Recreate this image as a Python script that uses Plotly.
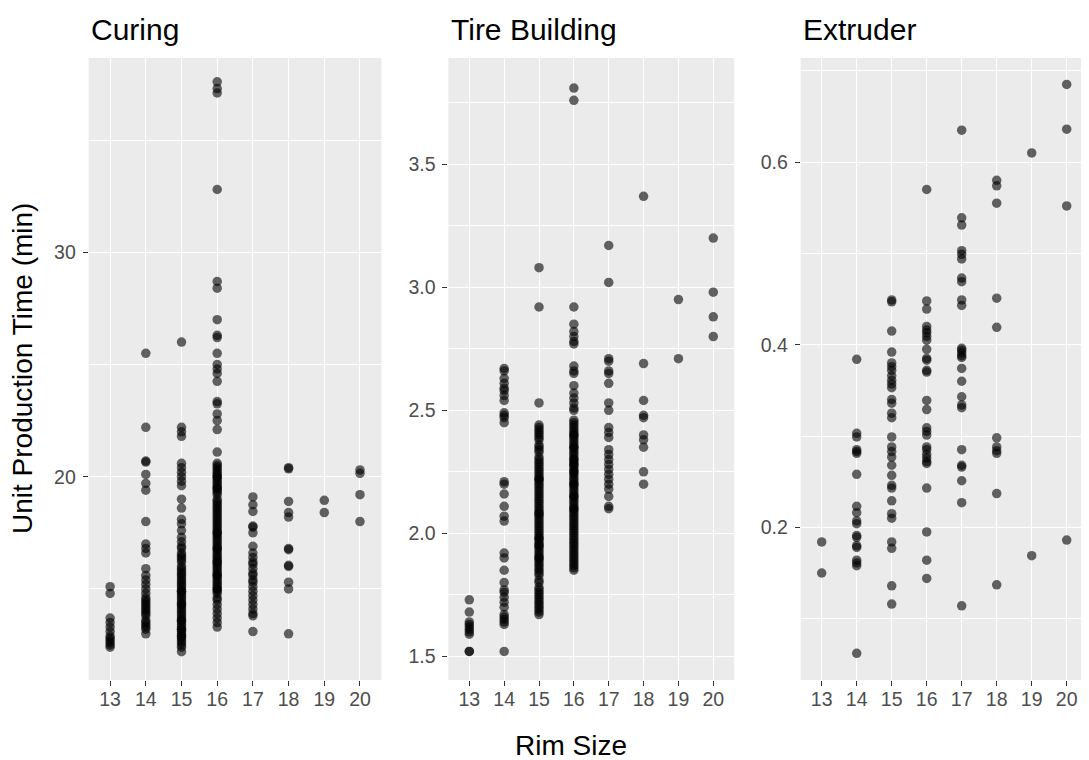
import plotly.graph_objects as go

rim_sizes = [13, 14, 15, 16, 17, 18, 19, 20]
panel_titles = ["Curing", "Tire Building", "Extruder"]

# Curing (min) per rim size
curing_13 = [15.1, 14.8, 13.7, 13.5, 13.3, 13.1, 12.9, 12.8, 12.7, 12.6, 12.5, 12.4]
curing_14 = [25.5, 22.2, 20.7, 20.65, 20.1, 19.7, 19.4, 18.0, 17.0, 16.8, 16.6, 15.9, 15.6, 15.4,
             15.2, 15.0, 14.8, 14.6, 14.5, 14.4, 14.3, 14.2, 14.1, 14.0, 13.9, 13.8, 13.6, 13.5,
             13.4, 13.3, 13.2, 13.0]
curing_15 = [26.0, 22.2, 22.0, 21.8, 20.6, 20.4, 20.2, 20.0, 19.8, 19.6, 19.0, 18.6, 18.1, 17.9,
             17.6, 17.3, 17.1, 16.9, 16.8, 16.6, 16.5, 16.3, 16.2, 16.0, 15.9, 15.8, 15.6, 15.5,
             15.4, 15.3, 15.1, 15.0, 14.9, 14.8, 14.7, 14.6, 14.5, 14.4, 14.3, 14.2, 14.1, 14.0,
             13.9, 13.8, 13.7, 13.6, 13.5, 13.4, 13.3, 13.2, 13.1, 13.0, 12.9, 12.8, 12.7, 12.6,
             12.5, 12.4, 12.2, 16.4, 15.7, 15.2, 14.9, 14.3, 13.6, 13.2, 12.9]
curing_16 = [37.6, 37.3, 37.1, 32.8, 28.7, 28.4, 27.0, 26.3, 26.2, 25.5, 25.0, 24.8, 24.6, 24.25,
             23.35, 23.25, 22.8, 22.5, 22.1, 21.1,
             20.6, 20.5, 20.4, 20.3, 20.2, 20.1, 20.0, 19.9, 19.8, 19.7, 19.6, 19.5, 19.4, 19.3,
             19.2, 19.0, 18.9, 18.8, 18.7, 18.6, 18.5, 18.3, 18.2, 18.1, 18.0, 17.9, 17.8, 17.7,
             17.6, 17.5, 17.4, 17.3, 17.2, 17.1, 17.0, 16.9, 16.8, 16.7, 16.6, 16.5, 16.4, 16.3,
             16.2, 16.1, 16.0, 15.9, 15.8, 15.7, 15.6, 15.5, 15.4, 15.3, 15.2, 15.1, 15.0, 14.9,
             14.8, 14.6, 14.5, 14.3, 14.1, 13.9, 13.7, 13.5, 13.3, 20.0, 19.5, 18.4, 17.5, 16.8,
             16.2, 15.6, 15.0]
curing_17 = [19.1, 18.75, 18.45, 17.8, 17.75, 17.5, 16.9, 16.6, 16.4, 16.2, 16.1, 15.9, 15.7,
             15.6, 15.4, 15.3, 15.1, 14.9, 14.7, 14.5, 14.3, 14.1, 13.9, 13.8, 13.1]
curing_18 = [20.4, 20.35, 18.9, 18.4, 18.2, 16.8, 16.75, 16.05, 16.0, 15.3, 15.0, 13.0]
curing_19 = [18.95, 18.4]
curing_20 = [20.3, 20.15, 19.2, 18.0]

# Tire Building (min) per rim size
tire_13 = [1.73, 1.68, 1.64, 1.63, 1.62, 1.61, 1.60, 1.59, 1.52, 1.52]
tire_14 = [2.67, 2.66, 2.63, 2.61, 2.59, 2.58, 2.56, 2.54, 2.49, 2.48, 2.47, 2.45, 2.21, 2.20,
           2.16, 2.11, 2.07, 2.05, 1.92, 1.90, 1.85, 1.80, 1.77, 1.76, 1.74, 1.72, 1.70, 1.67,
           1.66, 1.65, 1.64, 1.63, 1.52]
tire_15 = [3.08, 2.92, 2.53,
           2.44, 2.43, 2.42, 2.41, 2.40, 2.39, 2.38, 2.36, 2.35, 2.34, 2.33, 2.31, 2.30, 2.29,
           2.28, 2.27, 2.26, 2.25, 2.24, 2.23, 2.22, 2.21, 2.20, 2.19, 2.18, 2.17, 2.16, 2.15,
           2.14, 2.13, 2.12, 2.11, 2.10, 2.09, 2.08, 2.07, 2.06, 2.05, 2.04, 2.03, 2.02, 2.01,
           2.00, 1.99, 1.98, 1.97, 1.96, 1.95, 1.94, 1.93, 1.92, 1.91, 1.90, 1.89, 1.88, 1.87,
           1.86, 1.85, 1.84, 1.83, 1.81, 1.80, 1.78, 1.77, 1.76, 1.75, 1.74, 1.73, 1.72, 1.71,
           1.70, 1.69, 1.68, 1.67, 2.22, 2.08, 1.98, 1.95, 1.90]
tire_16 = [3.81, 3.76, 2.92, 2.85, 2.82, 2.80, 2.78, 2.77, 2.68, 2.66, 2.65, 2.60, 2.57, 2.55,
           2.53, 2.51, 2.50,
           2.46, 2.45, 2.44, 2.43, 2.42, 2.41, 2.40, 2.39, 2.38, 2.37, 2.36, 2.35, 2.34, 2.33,
           2.32, 2.31, 2.30, 2.29, 2.28, 2.27, 2.26, 2.25, 2.24, 2.23, 2.22, 2.21, 2.20, 2.19,
           2.18, 2.17, 2.16, 2.15, 2.14, 2.13, 2.12, 2.11, 2.10, 2.09, 2.08, 2.07, 2.06, 2.05,
           2.04, 2.03, 2.02, 2.01, 2.00, 1.99, 1.98, 1.97, 1.96, 1.95, 1.94, 1.93, 1.92, 1.91,
           1.90, 1.89, 1.88, 1.87, 1.86, 1.85, 2.40, 2.35, 2.30, 2.28, 2.25, 2.20, 2.15, 2.10]
tire_17 = [3.17, 3.02, 2.71, 2.70, 2.66, 2.65, 2.61, 2.53, 2.50, 2.43, 2.41, 2.39, 2.34, 2.32,
           2.30, 2.28, 2.26, 2.24, 2.22, 2.20, 2.18, 2.15, 2.11, 2.10]
tire_18 = [3.37, 2.69, 2.54, 2.48, 2.47, 2.40, 2.38, 2.35, 2.25, 2.20]
tire_19 = [2.95, 2.71]
tire_20 = [3.20, 2.98, 2.88, 2.80]

# Extruder (min) per rim size
extr_13 = [0.184, 0.150]
extr_14 = [0.384, 0.303, 0.299, 0.285, 0.283, 0.281, 0.258, 0.223, 0.216, 0.207, 0.204, 0.191,
           0.189, 0.180, 0.178, 0.164, 0.161, 0.158, 0.062]
extr_15 = [0.449, 0.447, 0.415, 0.392, 0.380, 0.376, 0.372, 0.366, 0.361, 0.357, 0.353, 0.340,
           0.336, 0.325, 0.320, 0.299, 0.288, 0.283, 0.277, 0.268, 0.257, 0.246, 0.243, 0.229,
           0.215, 0.210, 0.184, 0.177, 0.136, 0.116]
extr_16 = [0.570, 0.448, 0.439, 0.420, 0.416, 0.413, 0.409, 0.405, 0.395, 0.385, 0.383, 0.372,
           0.370, 0.339, 0.329, 0.309, 0.305, 0.301, 0.288, 0.285, 0.280, 0.276, 0.272, 0.270,
           0.243, 0.195, 0.164, 0.144]
extr_17 = [0.635, 0.539, 0.531, 0.503, 0.499, 0.494, 0.473, 0.469, 0.449, 0.443, 0.396, 0.394,
           0.391, 0.388, 0.386, 0.374, 0.360, 0.343, 0.334, 0.331, 0.285, 0.268, 0.266, 0.251,
           0.227, 0.114]
extr_18 = [0.580, 0.574, 0.555, 0.451, 0.419, 0.298, 0.288, 0.284, 0.281, 0.237, 0.137]
extr_19 = [0.610, 0.169]
extr_20 = [0.685, 0.636, 0.552, 0.186]

panels = [
    [curing_13, curing_14, curing_15, curing_16, curing_17, curing_18, curing_19, curing_20],
    [tire_13, tire_14, tire_15, tire_16, tire_17, tire_18, tire_19, tire_20],
    [extr_13, extr_14, extr_15, extr_16, extr_17, extr_18, extr_19, extr_20],
]

W, H = 1089, 760
OFF = 8  # page body margin offset
x_px = [(88.7, 381.4), (448.4, 734.2), (800.7, 1087.7)]
y_top, y_bot = 58, 680
y_ranges = [(10.94, 38.66), (1.404, 3.932), (0.0328, 0.714)]
y_major = [10, 0.5, 0.2]
y_minor = [5, 0.25, 0.1]
y_fmt = ["", ".1f", ".1f"]


def px_x(p):
    return (p - OFF) / W


def px_y(p):
    return (H - (p - OFF)) / H


fig = go.Figure()
FONT = "Liberation Sans, Arial, sans-serif"
TICKFONT = dict(family=FONT, size=19.5, color="#4D4D4D")

for i, vals in enumerate(panels):
    xs, ys = [], []
    for r, lst in zip(rim_sizes, vals):
        xs += [r] * len(lst)
        ys += lst
    sfx = "" if i == 0 else str(i + 1)
    fig.add_trace(go.Scatter(
        x=xs, y=ys, mode="markers", xaxis="x" + sfx, yaxis="y" + sfx,
        marker=dict(color="black", opacity=0.6, size=9.5, line=dict(width=0)),
        showlegend=False, hoverinfo="x+y"))
    dom_x = [px_x(x_px[i][0]), px_x(x_px[i][1])]
    dom_y = [px_y(y_bot), px_y(y_top)]
    xa = dict(domain=dom_x, range=[12.4, 20.6], tickvals=rim_sizes, showgrid=True,
              gridcolor="white", gridwidth=1.4, zeroline=False, showline=False,
              ticks="outside", ticklen=5, tickcolor="#333333", tickwidth=1.1,
              tickfont=TICKFONT, ticklabelstandoff=-3, anchor="y" + sfx,
              fixedrange=True)
    ya = dict(domain=dom_y, range=list(y_ranges[i]), dtick=y_major[i], tick0=0,
              tickformat=y_fmt[i], showgrid=True, gridcolor="white", gridwidth=1.4,
              zeroline=False, showline=False, ticks="outside", ticklen=5,
              tickcolor="#333333", tickwidth=1.1, tickfont=TICKFONT,
              ticklabelstandoff=3, anchor="x" + sfx,
              minor=dict(dtick=y_minor[i], tick0=0, showgrid=True, gridcolor="white",
                         gridwidth=0.7),
              fixedrange=True)
    fig.update_layout(**{"xaxis" + sfx: xa, "yaxis" + sfx: ya})
    fig.add_shape(type="rect", xref="paper", yref="paper",
                  x0=dom_x[0], x1=dom_x[1], y0=dom_y[0], y1=dom_y[1],
                  fillcolor="#EBEBEB", line=dict(width=0), layer="below")
    fig.add_annotation(text=panel_titles[i], xref="paper", yref="paper",
                       x=px_x(x_px[i][0] + 0.5), y=px_y(30), xanchor="left",
                       yanchor="middle", showarrow=False,
                       font=dict(family=FONT, size=30, color="black"))

fig.add_annotation(text="Unit Production Time (min)", xref="paper", yref="paper",
                   x=px_x(22), y=px_y(369), textangle=-90, showarrow=False,
                   xanchor="center", yanchor="middle",
                   font=dict(family=FONT, size=28, color="black"))
fig.add_annotation(text="Rim Size", xref="paper", yref="paper",
                   x=px_x(571), y=px_y(745), showarrow=False,
                   xanchor="center", yanchor="middle",
                   font=dict(family=FONT, size=28, color="black"))

fig.update_layout(width=W, height=H, margin=dict(l=0, r=0, t=0, b=0),
                  paper_bgcolor="white", plot_bgcolor="rgba(0,0,0,0)",
                  font=dict(family=FONT))
fig.write_html("out.html")
